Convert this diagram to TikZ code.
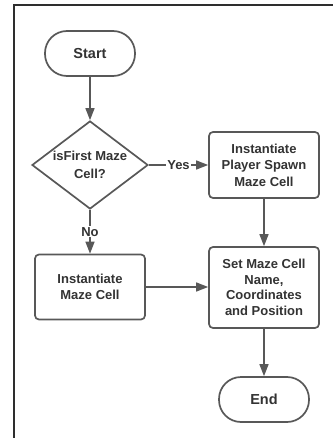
\documentclass[tikz,border=0pt]{standalone}
\usepackage{fontspec}
\setmainfont{Liberation Sans}
\usetikzlibrary{shapes.geometric,arrows.meta}
\definecolor{lc}{HTML}{585858}
\definecolor{tc}{HTML}{333333}
\definecolor{fc}{HTML}{2E2E2E}
\begin{document}
\begin{tikzpicture}[x=1pt,y=-1pt,
  every node/.style={font=\bfseries\fontsize{13}{16.5}\selectfont, text=tc, align=center},
  proc/.style={draw=lc, line width=1.7pt, rounded corners=4pt, minimum width=110pt, inner sep=0pt},
  term/.style={draw=lc, line width=1.7pt, rounded corners=22pt, minimum width=90pt, minimum height=45pt, inner sep=0pt, font=\bfseries\fontsize{14.5}{17}\selectfont},
  dec/.style={draw=lc, line width=1.7pt, diamond, aspect=1.32, minimum width=116pt, minimum height=88pt, inner sep=-2pt, font=\bfseries\fontsize{13}{17.5}\selectfont},
  conn/.style={draw=lc, line width=1.5pt, -{Triangle[length=12pt,width=9pt]}},
  lbl/.style={fill=white, inner sep=1pt, font=\bfseries\fontsize{13}{15}\selectfont}
]
\useasboundingbox (0,0) rectangle (333,438);
\fill[white] (0,0) rectangle (333,438);
\draw[fc, line width=1.2pt] (14,438) -- (14,5) -- (333,5);

\node[term] (start) at (90,53.5) {Start};
\node[dec] (dec) at (90,165) {isFirst Maze\\Cell?};
\node[proc, minimum height=66pt] (spawn) at (264,165) {Instantiate\\Player Spawn\\Maze Cell};
\node[proc, minimum height=65pt] (maze) at (90,287) {Instantiate\\Maze Cell};
\node[proc, minimum height=81pt, font=\bfseries\fontsize{13}{15.5}\selectfont] (set) at (264,287.5) {Set Maze Cell\\Name,\\Coordinates\\and Position};
\node[term] (end) at (264,399.5) {End};

\draw[conn] (start) -- (dec);
\draw[conn] (dec) -- node[lbl]{Yes} (spawn);
\draw[conn] (dec) -- node[lbl]{No} (maze);
\draw[conn] (spawn) -- (set);
\draw[conn] (maze.east) -- (maze.east -| set.west);
\draw[conn] (set) -- (end);
\end{tikzpicture}
\end{document}
